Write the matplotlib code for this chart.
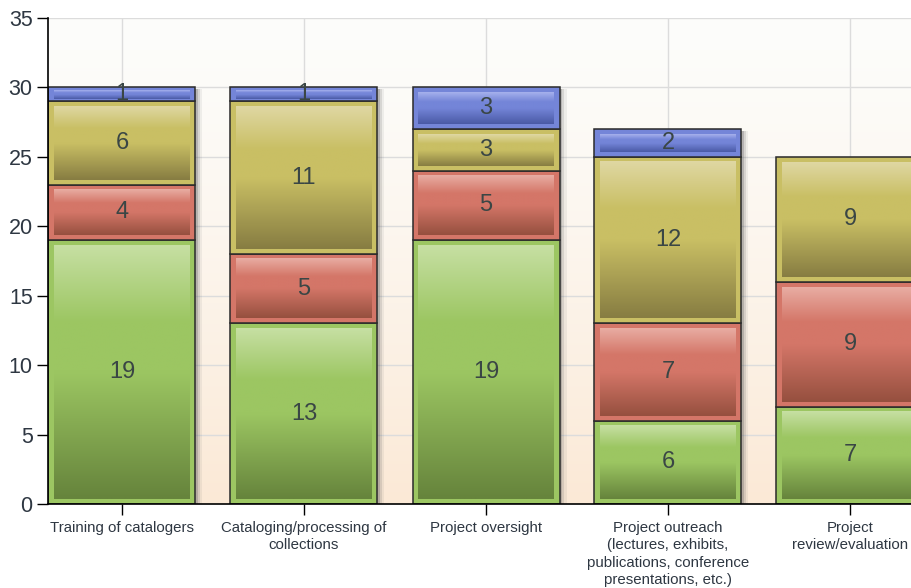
import matplotlib
matplotlib.use('Agg')
import matplotlib.pyplot as plt
import numpy as np

# data
categories = [
    "Training of catalogers",
    "Cataloging/processing of\ncollections",
    "Project oversight",
    "Project outreach\n(lectures, exhibits,\npublications, conference\npresentations, etc.)",
    "Project\nreview/evaluation",
]
green_vals = [19, 13, 19, 6, 7]
red_vals = [4, 5, 5, 7, 9]
yellow_vals = [6, 11, 3, 12, 9]
blue_vals = [1, 1, 3, 2, 0]

series = [green_vals, red_vals, yellow_vals, blue_vals]
# (light, base, dark)
palette = [
    ("#c6dfa2", "#9cc662", "#66843c"),
    ("#e8aca2", "#d47668", "#96503f"),
    ("#dfd7a2", "#c9bf64", "#877d42"),
    ("#a5b0ec", "#7485d8", "#4a5aa6"),
]

plt.rcParams['font.family'] = ['Liberation Sans', 'DejaVu Sans']

W, H = 912, 588
fig = plt.figure(figsize=(W / 100, H / 100), dpi=100)
ax_left, ax_bottom = 48 / W, (H - 504) / H
ax = fig.add_axes([ax_left, ax_bottom, 1 - ax_left, (504 - 18) / H])

px_x = 182.0            # pixels per category
px_y = (504 - 18) / 35  # pixels per unit
x0 = -74 / px_x
x1 = (912 - 122) / px_x
bar_w = 147 / px_x

def hexrgb(h):
    return np.array(matplotlib.colors.to_rgb(h))

def grad(light, base, dark, n=80):
    t = np.linspace(0, 1, n)
    l, b, d = hexrgb(light), hexrgb(base), hexrgb(dark)
    out = np.zeros((n, 1, 3))
    for i, v in enumerate(t):
        if v < 0.3:
            out[i, 0] = l + (b - l) * (v / 0.3)
        elif v < 0.5:
            out[i, 0] = b
        else:
            out[i, 0] = b + (d - b) * ((v - 0.5) / 0.5)
    return out

# background gradient
bg = np.zeros((100, 1, 3))
top_c, bot_c = hexrgb("#fdfdfb"), hexrgb("#fbe9d6")
for i in range(100):
    f = (i / 99) ** 1.3
    bg[i, 0] = top_c + (bot_c - top_c) * f
ax.imshow(bg, extent=[x0, x1, 0, 35], aspect='auto', zorder=0, interpolation='bilinear')

xs = np.arange(len(categories))
bottoms = np.zeros(len(categories))
dx = 5.5 / px_x
dy = 5.0 / px_y
for vals, (light, base, dark) in zip(series, palette):
    vals = np.array(vals, dtype=float)
    for i, v in enumerate(vals):
        if v <= 0:
            continue
        b = bottoms[i]
        # shadow
        for k, a in [(3, 0.25), (5, 0.15), (7, 0.08)]:
            ax.add_patch(plt.Rectangle((xs[i] - bar_w / 2 + k / px_x, b - 2 / px_y), bar_w, v,
                                       facecolor='#555555', alpha=a, edgecolor='none', zorder=1))
        ax.add_patch(plt.Rectangle((xs[i] - bar_w / 2, b), bar_w, v, facecolor=base,
                                   edgecolor='#2a2a2a', linewidth=1.1, zorder=2))
        dyy = min(dy, v * 0.2)
        ax.imshow(grad(light, base, dark),
                  extent=[xs[i] - bar_w / 2 + dx, xs[i] + bar_w / 2 - dx, b + dyy, b + v - dyy],
                  aspect='auto', zorder=3, interpolation='bilinear')
        ax.text(xs[i], b + v / 2, f"{int(v)}", ha='center', va='center',
                fontsize=17, color='#3a4645', zorder=5)
    bottoms += vals

ax.set_xlim(x0, x1)
ax.set_ylim(0, 35)
ax.set_yticks(range(0, 36, 5))
ax.set_xticks(xs)
ax.set_xticklabels(categories, fontsize=10.8, color='#2e3742', linespacing=1.32)
ax.tick_params(axis='y', labelsize=15.5, colors='#2e3742', length=8, width=1, pad=3)
ax.tick_params(axis='y', color='black')
ax.tick_params(axis='x', length=8, width=1, color='black', pad=4)
ax.grid(True, color='#dcdcdc', linewidth=1, zorder=0.5)
ax.set_axisbelow(True)
for s in ['top', 'right']:
    ax.spines[s].set_visible(False)
for s in ['left', 'bottom']:
    ax.spines[s].set_color('black')
    ax.spines[s].set_linewidth(1.2)
    ax.spines[s].set_zorder(6)

fig.savefig('out.png', dpi=100, facecolor='white')
